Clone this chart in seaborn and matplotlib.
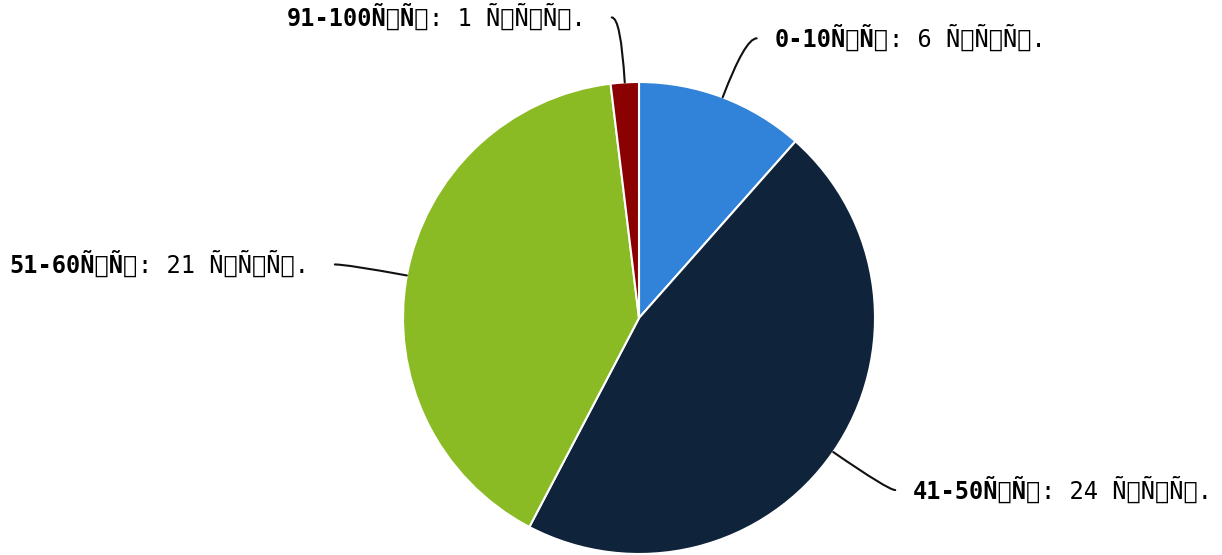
import numpy as np
import matplotlib
matplotlib.use("Agg")
import matplotlib.pyplot as plt
import seaborn as sns

# data
categories = ['0-10Ñ\x81Ñ\x82', '41-50Ñ\x81Ñ\x82', '51-60Ñ\x81Ñ\x82', '91-100Ñ\x81Ñ\x82']
values = [6, 24, 21, 1]
unit = 'Ñ\x87Ñ\x85Ñ\x82.'
colors = ['#3182d9', '#0f233a', '#8bbb24', '#8b0000']

# label connector offsets (px, right / down) from wedge edge
label_offsets = [(34, -59), (62, 38), (-72, -11), (-13, -65)]

sns.set_theme(style='white')
plt.rcParams['font.family'] = ['DejaVu Sans Mono', 'DejaVu Sans']

W, H = 1222, 555
cx, cy, R = 639, 318, 236  # pie centre / radius in pixels

fig = plt.figure(figsize=(W / 100, H / 100), dpi=100)
ax = fig.add_axes([0, 0, 1, 1])

wedges, _ = ax.pie(values, colors=colors, startangle=90, counterclock=False,
                   wedgeprops=dict(edgecolor='white', linewidth=1.5))
ax.set_aspect('auto')
ax.set_xlim(-cx / R, (W - cx) / R)
ax.set_ylim(-(H - cy) / R, cy / R)
ax.axis('off')

for w, cat, val, (dx, dy) in zip(wedges, categories, values, label_offsets):
    mid = np.deg2rad((w.theta1 + w.theta2) / 2)
    x0, y0 = np.cos(mid), np.sin(mid)
    x1, y1 = x0 + dx / R, y0 - dy / R
    ax.annotate('', xy=(x0, y0), xytext=(x1, y1),
                arrowprops=dict(arrowstyle='-', color='#111111', lw=1.5,
                                shrinkA=0, shrinkB=0,
                                connectionstyle=f'angle3,angleA=0,angleB={np.rad2deg(mid):.1f}'))
    rest = f': {val} {unit}'
    if dx > 0:
        t1 = ax.text(x1 + 18 / R, y1, cat, ha='left', va='center',
                     fontsize=17, fontweight='bold', color='black')
        ax.annotate(rest, xy=(1, 0), xycoords=t1, ha='left', va='bottom',
                    fontsize=17, color='black')
    else:
        t2 = ax.text(x1 - 26 / R, y1, rest, ha='right', va='center',
                     fontsize=17, color='black')
        ax.annotate(cat, xy=(0, 0), xycoords=t2, ha='right', va='bottom',
                    fontsize=17, fontweight='bold', color='black')

fig.savefig('out.png', dpi=100)
